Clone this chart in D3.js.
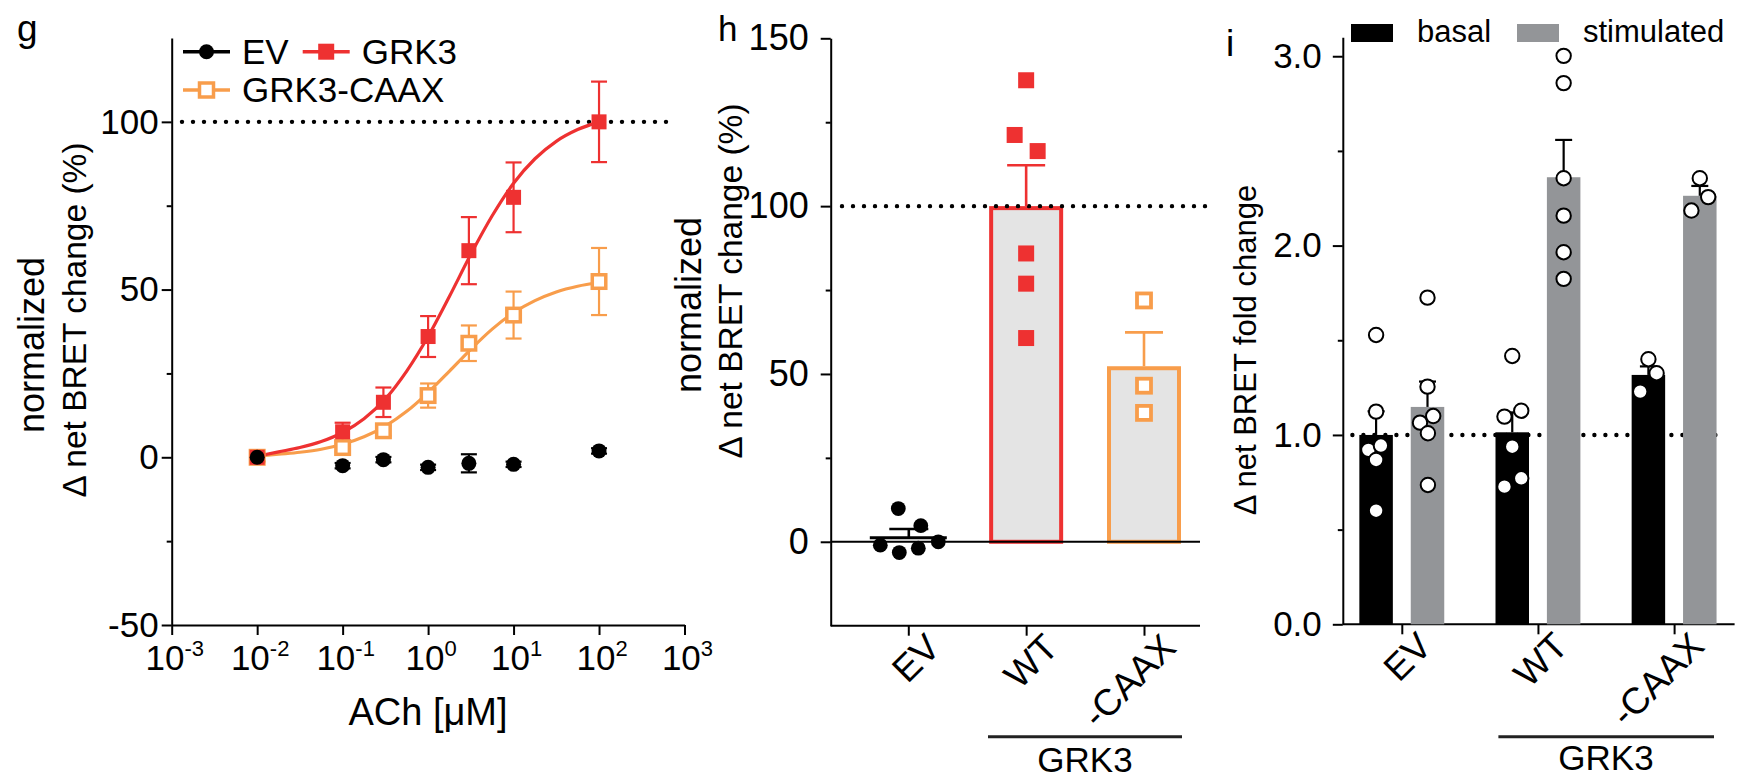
<!DOCTYPE html>
<html><head><meta charset="utf-8">
<script src="https://cdn.jsdelivr.net/npm/d3@7"></script>
<style>
html,body{margin:0;padding:0;background:#fff;}
svg text{font-family:"Liberation Sans",Arial,Helvetica,sans-serif;fill:#000;}
</style></head><body>
<svg id="chart" width="1741" height="779"></svg>
<script>
// ---------------- DATA ----------------
// Panel g: concentration-response
const doses = [0.01, 0.1, 0.3, 1, 3, 10, 100];
const evMean = [0, -2.5, -0.7, -3.0, -1.8, -2.1, 1.9];
const evErr = [1.2, 0.8, 0.8, 0.8, 2.7, 0.8, 0.8];
const grk3Mean = [0, 7.6, 16.4, 36.0, 61.6, 77.5, 100];
const grk3Err = [1.5, 2.7, 4.4, 6.1, 10.0, 10.4, 12.0];
const caaxMean = [0, 2.9, 7.9, 18.4, 34.0, 42.4, 52.4];
const caaxErr = [1.2, 1.2, 1.5, 3.6, 5.3, 7.0, 10.0];
// fitted curves
const fitDoses = [0.01, 0.0178, 0.0316, 0.0562, 0.1, 0.178, 0.316, 0.562, 1, 1.78, 3.16, 5.62, 10, 17.8, 31.6, 56.2, 100];
const grk3Fit = [0.3, 1.6, 2.9, 4.7, 7.4, 11.5, 17.4, 25.7, 36.0, 48.0, 60.5, 72.0, 81.7, 89.0, 94.2, 97.7, 100.0];
const caaxFit = [0.3, 0.9, 1.5, 2.4, 3.9, 6.1, 9.3, 13.7, 19.3, 25.7, 32.2, 38.2, 43.1, 46.7, 49.3, 51.0, 52.1];
const gYTicks = [-50, 0, 50, 100];
const gYMinor = [-25, 25, 75];
const gXTicks = [1e-3, 1e-2, 1e-1, 1e0, 1e1, 1e2, 1e3];
const gXExp = ["-3", "-2", "-1", "0", "1", "2", "3"];
const gLegend = ["EV", "GRK3", "GRK3-CAAX"];

// Panel h
const hCats = ["EV", "WT", "-CAAX"];
const hMean = [1.2, 100, 52.3];
const hSem = [2.6, 12.2, 10.1];
const hEV = [9.9, 4.8, -1.0, -3.2, -1.9, 0.0];
const hWT = [137.5, 121.2, 116.4, 85.9, 76.9, 60.7];
const hCAAX = [71.9, 46.5, 38.4];
const hYTicks = [0, 50, 100, 150];
const hYMinor = [25, 75, 125];

// Panel i
const iCats = ["EV", "WT", "-CAAX"];
const basalMean = [1.0, 1.014, 1.317];
const basalSem = [0.125, 0.105, 0.045];
const stimMean = [1.148, 2.361, 2.263];
const stimSem = [0.134, 0.197, 0.052];
const basalPts = [[1.528, 1.123, 0.921, 0.944, 0.868, 0.60], [1.417, 1.097, 1.128, 0.938, 0.727, 0.771], [1.40, 1.326, 1.229]];
const stimPts = [[1.725, 1.255, 1.065, 1.10, 1.009, 0.736], [3.002, 2.858, 2.356, 2.158, 1.965, 1.824], [2.356, 2.256, 2.185]];
const iYTicks = [0, 1, 2, 3];
const iYMinor = [0.5, 1.5, 2.5];
const iLegend = ["basal", "stimulated"];

// ---------------- LAYOUT / STYLE ----------------
const RED = "#ee3131", ORANGE = "#f89d4b", GRAY = "#939598", LIGHT = "#e4e4e4";
const FONT = 34, CATFONT = 37;
// jitter offsets (px) of scatter points
const hEVjit = [-10, 12.5, -28, -9, 10, 30];
const hWTjit = [0, -11.5, 11.5, 0, 0, 0];
const hCAAXjit = [0, 0, 0];
const basalJit = [[0, 0, -7.7, 4.8, 0, 0], [0, -7.8, 9, 0, -7.8, 9], [0, 8.2, -8.2]];
const stimJit = [[0, 0, -7.5, 5.7, 0.4, 0.4], [0, 0, 0, 0, 0, 0], [0, 8.4, -8.4]];

const svg = d3.select("#chart");
const fmtInt = d => String(d);

function styleAxis(sel, fs) {
  sel.selectAll("path.domain").attr("stroke", "#000").attr("stroke-width", 2);
  sel.selectAll(".tick line").attr("stroke", "#000").attr("stroke-width", 2);
  sel.selectAll(".tick text").attr("font-size", fs).attr("fill", "#000")
     .attr("font-family", '"Liberation Sans",Arial,sans-serif');
}
function dotted(parent, x1, x2, y) {
  parent.append("line").attr("x1", x1).attr("x2", x2).attr("y1", y).attr("y2", y)
    .attr("stroke", "#000").attr("stroke-width", 4.4).attr("stroke-linecap", "round")
    .attr("stroke-dasharray", "0 11");
}
function errBar(parent, x, y1, y2, cap, color, w, both, y0) {
  parent.append("line").attr("x1", x).attr("x2", x).attr("y1", both ? y0 : y1).attr("y2", y2)
    .attr("stroke", color).attr("stroke-width", w);
  parent.append("line").attr("x1", x - cap / 2).attr("x2", x + cap / 2).attr("y1", y2).attr("y2", y2)
    .attr("stroke", color).attr("stroke-width", w);
  if (both) parent.append("line").attr("x1", x - cap / 2).attr("x2", x + cap / 2).attr("y1", y0).attr("y2", y0)
    .attr("stroke", color).attr("stroke-width", w);
}
function label(parent, txt, x, y, fs, anchor, rot) {
  return parent.append("text").attr("transform", `translate(${x},${y})` + (rot ? ` rotate(${rot})` : ""))
    .attr("text-anchor", anchor || "start").attr("font-size", fs).text(txt);
}

// ================= PANEL g =================
const gx = d3.scaleLog().domain([1e-3, 1e3]).range([171.7, 684.5]);
const gy = d3.scaleLinear().domain([-50, 125]).range([625, 38]);
const G = svg.append("g");
label(G, "g", 17, 41, 37);

dotted(G, 182, 677, gy(100));

const ga = G.append("g").attr("transform", "translate(171.7,0)")
  .call(d3.axisLeft(gy).tickValues(gYTicks).tickSize(10).tickSizeOuter(0).tickPadding(3).tickFormat(fmtInt));
styleAxis(ga, 35);
const gam = G.append("g").attr("transform", "translate(171.7,0)")
  .call(d3.axisLeft(gy).tickValues(gYMinor).tickSize(5).tickSizeOuter(0).tickFormat(""));
styleAxis(gam, FONT);
gam.select("path.domain").remove();
const gb = G.append("g").attr("transform", "translate(0,625)")
  .call(d3.axisBottom(gx).tickValues(gXTicks).tickSize(10).tickSizeOuter(0).tickFormat(""));
styleAxis(gb, FONT);
gXTicks.forEach((t, i) => {
  const tx = G.append("text").attr("x", gx(t) + 3).attr("y", 670).attr("text-anchor", "middle").attr("font-size", 35);
  tx.append("tspan").text("10");
  tx.append("tspan").attr("dy", -14).attr("font-size", 22).text(gXExp[i]);
});
label(G, "ACh [\u03bcM]", 428, 725, 38, "middle");
label(G, "normalized", 43.5, 345, 36, "middle", -90);
label(G, "\u0394 net BRET change (%)", 86, 320, 33.5, "middle", -90);

const line = d3.line().x(d => gx(d[0])).y(d => gy(d[1])).curve(d3.curveMonotoneX);
G.append("path").datum(fitDoses.map((d, i) => [d, caaxFit[i]])).attr("d", line)
  .attr("fill", "none").attr("stroke", ORANGE).attr("stroke-width", 3.2);
G.append("path").datum(fitDoses.map((d, i) => [d, grk3Fit[i]])).attr("d", line)
  .attr("fill", "none").attr("stroke", RED).attr("stroke-width", 3.2);

doses.forEach((d, i) => {
  errBar(G, gx(d), 0, gy(caaxMean[i] + caaxErr[i]), 16, ORANGE, 2.2, true, gy(caaxMean[i] - caaxErr[i]));
  errBar(G, gx(d), 0, gy(grk3Mean[i] + grk3Err[i]), 16, RED, 2.2, true, gy(grk3Mean[i] - grk3Err[i]));
  errBar(G, gx(d), 0, gy(evMean[i] + evErr[i]), 16, "#000", 2.2, true, gy(evMean[i] - evErr[i]));
});
const sqO = 13.5, sqR = 15;
G.selectAll(".mo").data(doses).join("rect").attr("x", d => gx(d) - sqO / 2)
  .attr("y", (d, i) => gy(caaxMean[i]) - sqO / 2).attr("width", sqO).attr("height", sqO)
  .attr("fill", "#fff").attr("stroke", ORANGE).attr("stroke-width", 3.5);
G.selectAll(".mr").data(doses).join("rect").attr("x", d => gx(d) - sqR / 2)
  .attr("y", (d, i) => gy(grk3Mean[i]) - sqR / 2).attr("width", sqR).attr("height", sqR).attr("fill", RED);
G.selectAll(".mb").data(doses).join("circle").attr("cx", d => gx(d))
  .attr("cy", (d, i) => gy(evMean[i])).attr("r", 7.5).attr("fill", "#000");

// legend g
const legY = [51.7, 51.7, 90];
const legX = [183, 302.7, 183];
const legCol = ["#000", RED, ORANGE];
gLegend.forEach((name, i) => {
  G.append("line").attr("x1", legX[i]).attr("x2", legX[i] + 47).attr("y1", legY[i]).attr("y2", legY[i])
    .attr("stroke", legCol[i]).attr("stroke-width", 3.5);
  const cx = legX[i] + 23.5;
  if (i === 0) G.append("circle").attr("cx", cx).attr("cy", legY[i]).attr("r", 7.5).attr("fill", "#000");
  else if (i === 1) G.append("rect").attr("x", cx - 8).attr("y", legY[i] - 8).attr("width", 16).attr("height", 16).attr("fill", RED);
  else G.append("rect").attr("x", cx - 7).attr("y", legY[i] - 7).attr("width", 14).attr("height", 14)
    .attr("fill", "#fff").attr("stroke", ORANGE).attr("stroke-width", 3.5);
  label(G, name, legX[i] + 59, legY[i] + 12, 35);
});

// ================= PANEL h =================
const hx = d3.scalePoint().domain(hCats).range([908.3, 1144]);
const hy = d3.scaleLinear().domain([-25, 150]).range([625.7, 38.3]);
const H = svg.append("g");
label(H, "h", 718, 40.7, 35);

const ha = H.append("g").attr("transform", "translate(830.7,0)")
  .call(d3.axisLeft(hy).tickValues(hYTicks).tickSize(10).tickSizeOuter(0).tickPadding(12).tickFormat(fmtInt));
styleAxis(ha, 36);
const ham = H.append("g").attr("transform", "translate(830.7,0)")
  .call(d3.axisLeft(hy).tickValues(hYMinor).tickSize(5).tickSizeOuter(0).tickFormat(""));
styleAxis(ham, 36);
ham.select("path.domain").remove();
// x axis
H.append("line").attr("x1", 830.7).attr("x2", 1200).attr("y1", 625.7).attr("y2", 625.7).attr("stroke", "#000").attr("stroke-width", 2);
const hb = H.append("g").attr("transform", "translate(0,625.7)")
  .call(d3.axisBottom(hx).tickSize(10).tickSizeOuter(0).tickFormat(""));
styleAxis(hb, FONT);
hb.select("path.domain").remove();
hCats.forEach(c => label(H, c, hx(c) + 34, 625.7 + 24, CATFONT, "end", -45));
label(H, "normalized", 701, 305, 36, "middle", -90);
label(H, "\u0394 net BRET change (%)", 742, 281, 33.5, "middle", -90);

// bars
const hCol = [null, RED, ORANGE];
hCats.forEach((c, i) => {
  if (i === 0) return;
  H.append("rect").attr("x", hx(c) - 35).attr("y", hy(hMean[i]) + 2).attr("width", 70)
    .attr("height", hy(0) - hy(hMean[i]) - 2).attr("fill", LIGHT).attr("stroke", hCol[i]).attr("stroke-width", 4);
});
// zero line
H.append("line").attr("x1", 830.7).attr("x2", 1200).attr("y1", hy(0)).attr("y2", hy(0)).attr("stroke", "#000").attr("stroke-width", 2);
dotted(H, 842, 1212, hy(100));
// error bars
errBar(H, hx("WT"), hy(hMean[1]), hy(hMean[1] + hSem[1]), 38, RED, 2.6);
errBar(H, hx("-CAAX"), hy(hMean[2]), hy(hMean[2] + hSem[2]), 38, ORANGE, 2.6);
errBar(H, hx("EV") + 0.5, hy(hMean[0]), hy(hMean[0] + hSem[0]), 39, "#000", 2.6);
// points
H.selectAll(".ev").data(hEV).join("circle").attr("cx", (d, i) => hx("EV") + hEVjit[i]).attr("cy", d => hy(d)).attr("r", 7.4).attr("fill", "#000");
H.append("line").attr("x1", hx("EV") - 38.5).attr("x2", hx("EV") + 38.5).attr("y1", hy(hMean[0])).attr("y2", hy(hMean[0]))
  .attr("stroke", "#000").attr("stroke-width", 3.2);
H.selectAll(".wt").data(hWT).join("rect").attr("x", (d, i) => hx("WT") + hWTjit[i] - 8).attr("y", d => hy(d) - 8)
  .attr("width", 16).attr("height", 16).attr("fill", RED);
H.selectAll(".caax").data(hCAAX).join("rect").attr("x", (d, i) => hx("-CAAX") + hCAAXjit[i] - 7).attr("y", d => hy(d) - 7)
  .attr("width", 14).attr("height", 14).attr("fill", "#fff").attr("stroke", ORANGE).attr("stroke-width", 3.8);
// group label
H.append("line").attr("x1", 988).attr("x2", 1182).attr("y1", 736.7).attr("y2", 736.7).attr("stroke", "#222").attr("stroke-width", 3);
label(H, "GRK3", 1085, 771.7, 35, "middle");

// ================= PANEL i =================
const ix = d3.scalePoint().domain(iCats).range([1401.8, 1674.1]);
const iy = d3.scaleLinear().domain([0, 3.1]).range([624.3, 37.3]);
const I = svg.append("g");
label(I, "i", 1226, 55.5, 37);
const BW = 33.5, OFF = 25.7;

dotted(I, 1352.4, 1724, iy(1));
const ia = I.append("g").attr("transform", "translate(1342.8,0)")
  .call(d3.axisLeft(iy).tickValues(iYTicks).tickSize(10).tickSizeOuter(0).tickPadding(11).tickFormat(d3.format(".1f")));
styleAxis(ia, 35);
const iam = I.append("g").attr("transform", "translate(1342.8,0)")
  .call(d3.axisLeft(iy).tickValues(iYMinor).tickSize(5).tickSizeOuter(0).tickFormat(""));
styleAxis(iam, 35);
iam.select("path.domain").remove();
I.append("line").attr("x1", 1342.8).attr("x2", 1734.6).attr("y1", 624.3).attr("y2", 624.3).attr("stroke", "#000").attr("stroke-width", 2);
const ib = I.append("g").attr("transform", "translate(0,624.3)")
  .call(d3.axisBottom(ix).tickSize(10).tickSizeOuter(0).tickFormat(""));
styleAxis(ib, FONT);
ib.select("path.domain").remove();
iCats.forEach(c => label(I, c, ix(c) + 32, 624.3 + 24, CATFONT, "end", -45));
label(I, "\u0394 net BRET fold change", 1256, 350, 31, "middle", -90);

iCats.forEach((c, i) => {
  const bx = ix(c) - OFF, sx = ix(c) + OFF;
  I.append("rect").attr("x", bx - BW / 2).attr("y", iy(basalMean[i])).attr("width", BW)
    .attr("height", iy(0) - iy(basalMean[i])).attr("fill", "#000");
  I.append("rect").attr("x", sx - BW / 2).attr("y", iy(stimMean[i])).attr("width", BW)
    .attr("height", iy(0) - iy(stimMean[i])).attr("fill", GRAY);
  errBar(I, bx, iy(basalMean[i]), iy(basalMean[i] + basalSem[i]), 17, "#000", 2.2);
  errBar(I, sx, iy(stimMean[i]), iy(stimMean[i] + stimSem[i]), 17, "#000", 2.2);
  basalPts[i].forEach((v, j) => I.append("circle").attr("cx", bx + basalJit[i][j]).attr("cy", iy(v)).attr("r", 7.2)
    .attr("fill", "#fff").attr("stroke", "#000").attr("stroke-width", 2));
  stimPts[i].forEach((v, j) => I.append("circle").attr("cx", sx + stimJit[i][j]).attr("cy", iy(v)).attr("r", 7.2)
    .attr("fill", "#fff").attr("stroke", "#000").attr("stroke-width", 2));
});
I.append("line").attr("x1", 1498.4).attr("x2", 1714).attr("y1", 736.7).attr("y2", 736.7).attr("stroke", "#222").attr("stroke-width", 3);
label(I, "GRK3", 1606, 770, 35, "middle");

// legend i
const iLegX = [1351, 1517];
const iLegCol = ["#000", GRAY];
iLegend.forEach((name, k) => {
  I.append("rect").attr("x", iLegX[k]).attr("y", 24).attr("width", 42).attr("height", 18).attr("fill", iLegCol[k]);
  label(I, name, iLegX[k] + 66, 41.7, 31);
});
</script></body></html>
